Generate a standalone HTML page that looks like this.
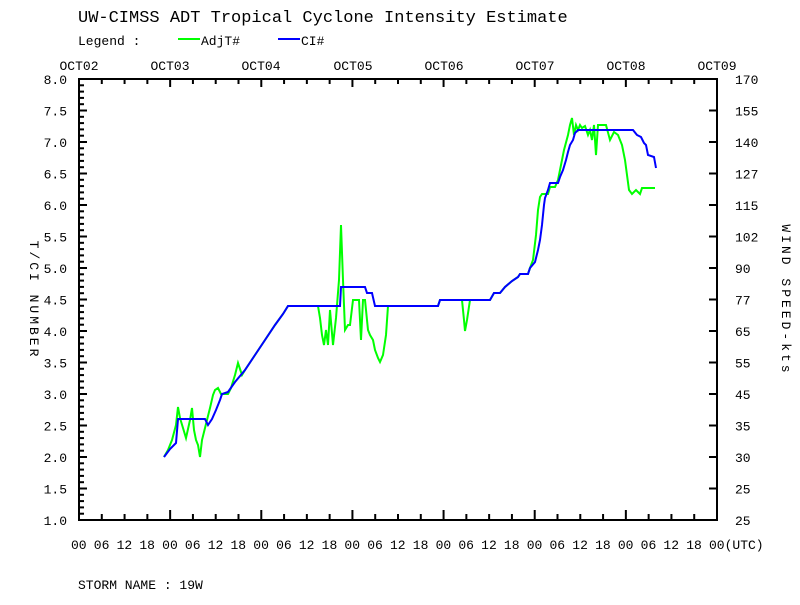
<!DOCTYPE html>
<html><head><meta charset="utf-8"><style>
body{margin:0;background:#fff;}
svg text{font-family:"Liberation Mono","DejaVu Sans Mono",monospace;fill:#000;}
</style></head><body>
<svg width="800" height="600" xmlns="http://www.w3.org/2000/svg">
<rect width="800" height="600" fill="#fff"/>
<text x="78" y="22" font-size="17">UW-CIMSS ADT Tropical Cyclone Intensity Estimate</text>
<text x="78" y="45" font-size="13">Legend :</text>
<line x1="178" y1="39" x2="200" y2="39" stroke="#00ff00" stroke-width="2"/>
<text x="201" y="45" font-size="13">AdjT#</text>
<line x1="278" y1="39" x2="300" y2="39" stroke="#0000ff" stroke-width="2"/>
<text x="301" y="45" font-size="13">CI#</text>
<g font-size="13" text-anchor="middle">
<text x="79" y="70">OCT02</text><text x="170" y="70">OCT03</text><text x="261" y="70">OCT04</text><text x="353" y="70">OCT05</text><text x="444" y="70">OCT06</text><text x="535" y="70">OCT07</text><text x="626" y="70">OCT08</text><text x="717" y="70">OCT09</text>
</g>
<rect x="79" y="79" width="638" height="441" fill="none" stroke="#000" stroke-width="2"/>
<g id="ticks" stroke="#000" stroke-width="2"></g>
<g id="lbl" font-size="13"></g>
<g font-size="13" text-anchor="middle">
<text x="30" y="300" transform="rotate(90 30 300)" letter-spacing="3">T/CI NUMBER</text>
<text x="782" y="300" transform="rotate(90 782 300)" letter-spacing="3">WIND SPEED-kts</text>
</g>
<text x="78" y="589" font-size="13">STORM NAME :  19W</text>
<polyline fill="none" stroke="#00ff00" stroke-width="2" points="164,457 168,450 172,440 176,425 178,407 180,418 183,428 186,438 190,420 192,408 194,430 196,440 198,445 200,457 202,440 204,432 207,420 210,408 213,395 215,390 218,388 221,394 228,394 231,388 235,375 238,363 242,375 245,370 255,355 265,340 275,325 283,314 288,306 318,306 320,318 322,335 324,345 326,330 328,345 330,310 333,345 336,318 339,280 341,225 343,280 345,330 348,325 350,325 353,300 356,300 359,300 361,340 363,300 365,300 368,330 370,335 373,340 375,350 378,358 380,362 383,355 386,335 388,306 438,306 440,300 462,300 464,320 465,331 467,320 470,300 490,300 494,293 500,293 505,287 512,281 518,277 520,274 528,274 530,268 533,260 536,235 538,210 540,197 542,194 548,194 550,187 555,187 558,180 561,165 564,150 568,135 570,125 572,118 574,135 576,125 578,130 580,125 582,128 585,126 588,135 590,130 592,140 594,125 596,155 598,125 606,125 610,140 614,132 618,135 622,145 625,160 627,175 629,190 632,194 636,190 640,194 642,188 655,188"/>
<polyline fill="none" stroke="#0000ff" stroke-width="2" points="164,457 170,449 176,443 178,419 205,419 208,425 212,419 216,410 220,400 222,394 228,392 235,382 245,370 255,355 265,340 275,325 283,314 288,306 340,306 341,287 365,287 367,293 372,293 375,306 438,306 440,300 490,300 494,293 500,293 505,287 512,281 518,277 520,274 528,274 530,268 535,262 538,250 540,240 542,225 544,205 545,198 548,190 550,183 558,183 560,177 563,170 566,160 568,152 570,145 573,140 575,133 578,130 633,130 637,135 641,137 644,143 646,145 648,155 654,157 656,168"/>
</svg>
<script>
var ns="http://www.w3.org/2000/svg",t=document.getElementById("ticks"),l=document.getElementById("lbl");
function ln(a,b,c,d){var e=document.createElementNS(ns,"line");e.setAttribute("x1",a);e.setAttribute("y1",b);e.setAttribute("x2",c);e.setAttribute("y2",d);t.appendChild(e);}
function tx(x,y,s,anc){var e=document.createElementNS(ns,"text");e.setAttribute("x",x);e.setAttribute("y",y);if(anc)e.setAttribute("text-anchor",anc);e.textContent=s;l.appendChild(e);}
for(var i=0;i<=28;i++){var x=79+i*638/28,big=i%4==0;ln(x,79,x,79+(big?8:5));ln(x,520,x,520-(big?10:6));}
for(var k=0;k<=70;k++){var y=79+k*6.3,big=k%5==0;ln(79,y,79+(big?8:5),y);if(big){ln(717,y,709,y);tx(67,y+5,(8-k/10).toFixed(1),"end");}}
var w=["170","155","140","127","115","102","90","77","65","55","45","35","30","25","25"];
for(var k=0;k<15;k++)tx(735,79+k*31.5+5,w[k]);
var h=["00","06","12","18"];
for(var i=0;i<=28;i++){var s=i==28?"00(UTC)":h[i%4];tx(79+i*638/28-8,549,s);}
</script>
</body></html>
